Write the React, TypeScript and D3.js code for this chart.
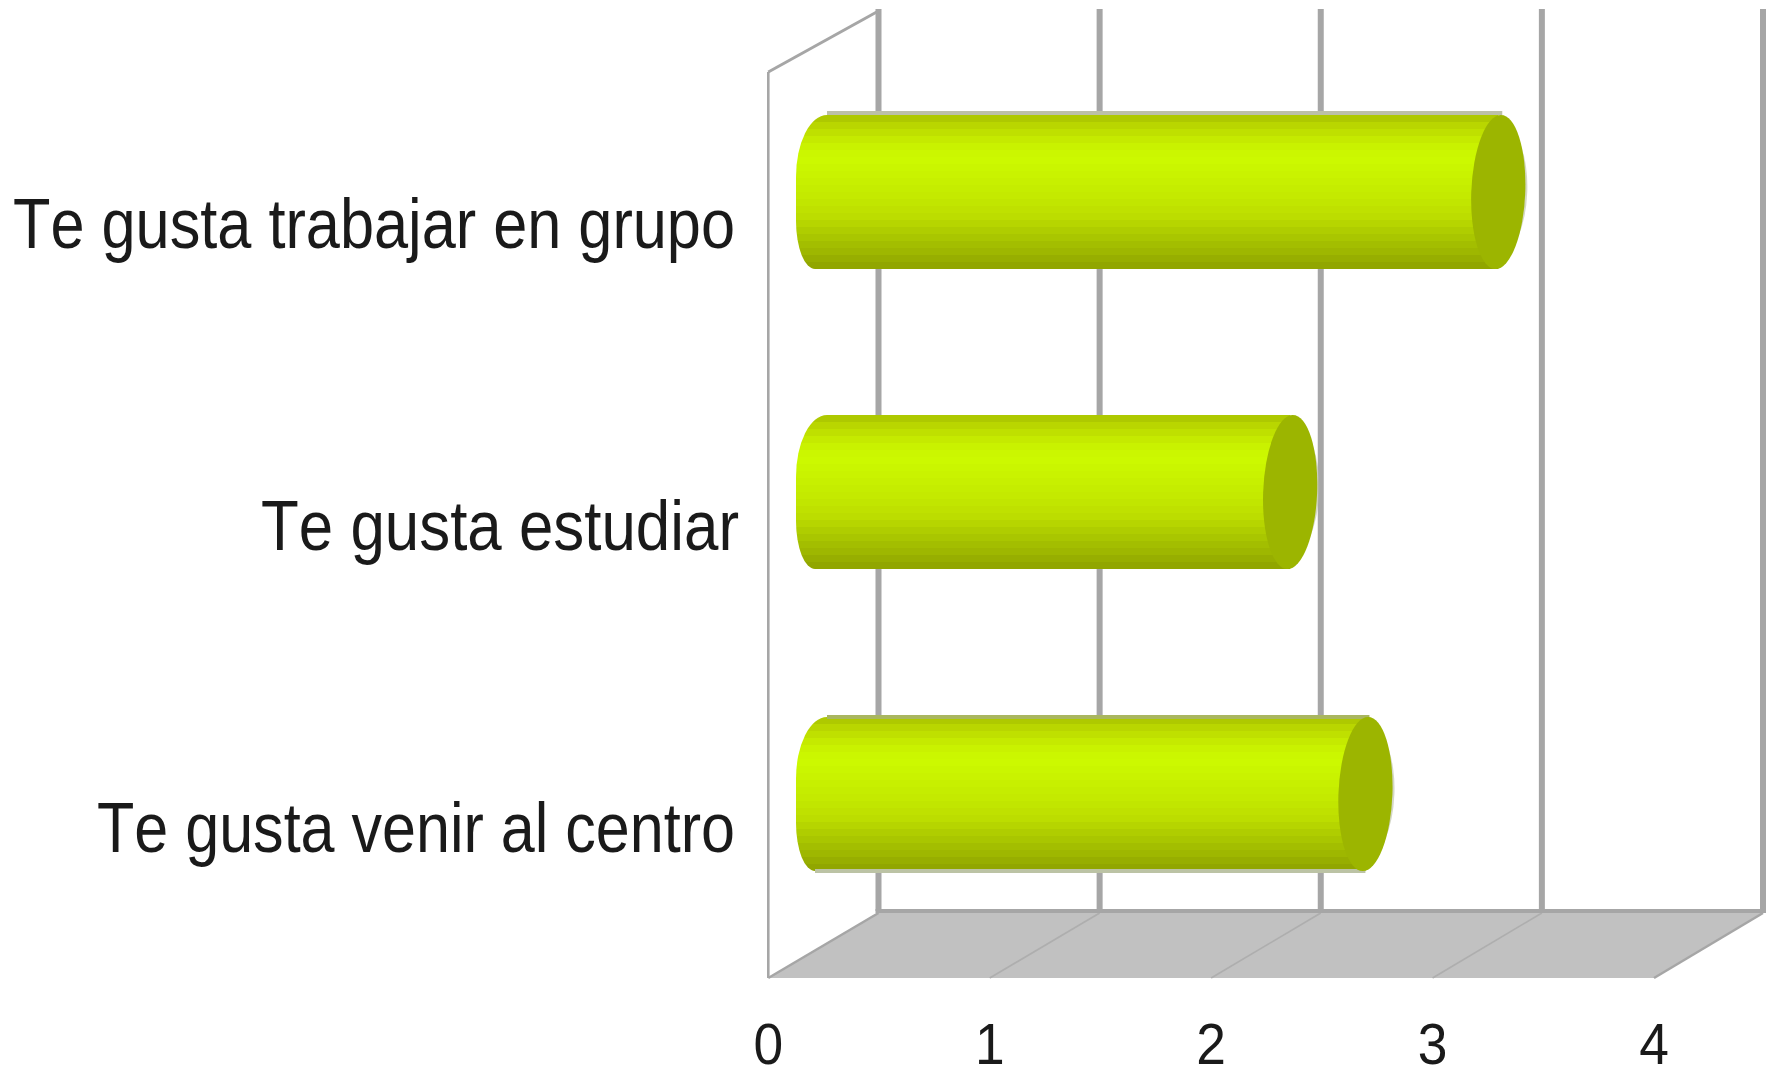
import React from "react";
import * as d3 from "d3";

const categories = ["Te gusta trabajar en grupo", "Te gusta estudiar", "Te gusta venir al centro"];
const values = [3.05, 2.11, 2.45];
const tickValues = [0, 1, 2, 3, 4];

// Styling / layout constants (not data)
const labelLengths = [722, 478, 638];
const labelRightEdges = [735, 739, 735];
const labelBaselines = [248, 550, 852];
const barCenters = [192, 492, 794];
const shadowTop = [true, false, true];
const shadowBottom = [false, false, true];

const gradientStops: [number, string][] = [
  [0, "#a8c300"],
  [0.06, "#b8d400"],
  [0.14, "#c3e600"],
  [0.22, "#caf500"],
  [0.3, "#ccf900"],
  [0.4, "#c8f200"],
  [0.52, "#c4ea00"],
  [0.66, "#bcdd00"],
  [0.78, "#abc800"],
  [0.9, "#9cb500"],
  [0.96, "#92a800"],
  [1, "#8fa300"],
];
const BANDS = 22;
const FONT = "'Liberation Sans', Arial, sans-serif";
const GRID = "#a6a6a6";

export default function App() {
  const xFront = d3.scaleLinear().domain([0, 4]).range([768.3, 1654]);
  const xBack = d3.scaleLinear().domain([0, 4]).range([878.5, 1763]);
  const xBar = d3.scaleLinear().domain([0, 4]).range([823, 1708.6]);
  const yBar = d3.scaleOrdinal<string, number>().domain(categories).range(barCenters);
  const color = d3
    .scaleLinear<string>()
    .domain(gradientStops.map((s) => s[0]))
    .range(gradientStops.map((s) => s[1]));

  const floorBackY = 913;
  const floorFrontY = 978;
  const wallTopBackY = 9;
  const wallTopFrontY = 72;
  const rx = 27;
  const ry = 77;

  const floor = d3.line()([
    [xFront(0), floorFrontY],
    [xBack(0), floorBackY],
    [xBack(4), floorBackY],
    [xFront(4), floorFrontY],
  ]) + "Z";

  const bands = d3.range(BANDS).flatMap((i) => {
    const a = i / BANDS;
    const b = (i + 1) / BANDS;
    const c = color((a + b) / 2);
    return [
      <stop key={`a${i}`} offset={a} stopColor={c} />,
      <stop key={`b${i}`} offset={b} stopColor={c} />,
    ];
  });

  return (
    <svg
      width={1767}
      height={1069}
      viewBox="0 0 1767 1069"
      style={{ position: "absolute", left: 0, top: 0, display: "block", background: "#fff" }}
    >
      <defs>
        <linearGradient id="cyl" x1="0" y1="0" x2="0" y2="1">
          {bands}
        </linearGradient>
      </defs>

      {/* floor */}
      <path d={floor} fill="#c1c1c1" />

      {/* back grid lines */}
      {tickValues.map((t) => (
        <line key={t} x1={xBack(t)} x2={xBack(t)} y1={wallTopBackY} y2={floorBackY - 2} stroke={GRID} strokeWidth={6} />
      ))}
      <line x1={xBack(0) - 3} x2={xBack(4) + 3} y1={floorBackY - 2} y2={floorBackY - 2} stroke={GRID} strokeWidth={4} />

      {/* floor diagonals */}
      {tickValues.map((t) => (
        <line
          key={t}
          x1={xFront(t)}
          y1={floorFrontY}
          x2={xBack(t)}
          y2={floorBackY}
          stroke={GRID}
          strokeWidth={t === 0 || t === 4 ? 2.5 : 1.6}
          opacity={t === 0 || t === 4 ? 1 : 0.7}
        />
      ))}

      {/* left wall */}
      <line x1={xFront(0)} x2={xFront(0)} y1={wallTopFrontY} y2={floorFrontY} stroke={GRID} strokeWidth={2.6} />
      <line x1={xFront(0)} y1={wallTopFrontY} x2={xBack(0)} y2={wallTopBackY + 2} stroke={GRID} strokeWidth={3} />

      {/* cylinders */}
      {categories.map((c, i) => {
        const cy = yBar(c);
        const x0 = xBar(0);
        const x1 = xBar(values[i]);
        const top = cy - ry;
        const bottom = cy + ry;
        const body =
          `M${x1},${top}L${x0 + 4},${top}A31,62 0 0 0 ${x0 - rx},${top + 62}` +
          `L${x0 - rx},${bottom - 48}A19,48 0 0 0 ${x0 - 8},${bottom}L${x1},${bottom}Z`;
        const capTransform = `translate(${x1},${cy}) skewX(-2)`;
        return (
          <g key={c}>
            <ellipse transform={`translate(${x1 + 2},${cy}) skewX(-2)`} rx={rx} ry={ry - 12} fill="#b8bda0" opacity={0.6} />
            <path d={body} fill="url(#cyl)" />
            {shadowTop[i] && <rect x={x0 + 4} y={top - (i === 2 ? 2 : 4)} width={x1 - x0} height={4} fill={i === 2 ? "#a9b65f" : "#bcc0a8"} />}
            {shadowBottom[i] && <rect x={x0 - 8} y={bottom - 2} width={x1 - x0 + 8} height={4} fill="#bcc3a5" />}
            <ellipse transform={capTransform} rx={rx} ry={ry} fill="#9cb500" />
          </g>
        );
      })}

      {/* category labels */}
      {categories.map((c, i) => (
        <text
          key={c}
          x={labelRightEdges[i]}
          y={labelBaselines[i]}
          textAnchor="end"
          fontFamily={FONT}
          fontSize={71}
          fill="#1a1a1a"
          textLength={labelLengths[i]}
          lengthAdjust="spacingAndGlyphs"
          style={{ fontKerning: "none" }}
        >
          {c}
        </text>
      ))}

      {/* value ticks */}
      {tickValues.map((t) => (
        <text
          key={t}
          transform={`translate(${xFront(t)},1064) scale(0.92,1)`}
          textAnchor="middle"
          fontFamily={FONT}
          fontSize={58}
          fill="#1a1a1a"
        >
          {t}
        </text>
      ))}
    </svg>
  );
}
